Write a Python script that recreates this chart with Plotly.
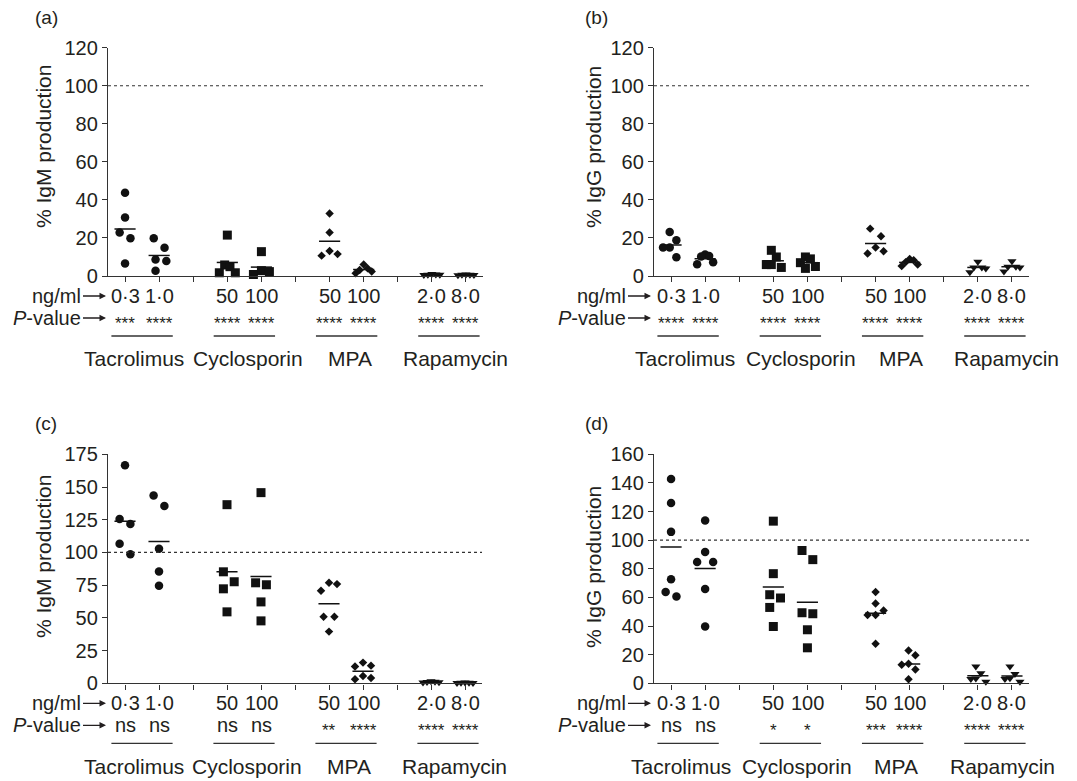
import numpy as np
import plotly.graph_objects as go

W, H = 1077, 781
FONT = "Liberation Sans, Arial, Helvetica, sans-serif"
INK = "#231f20"

# ---------------- data ----------------
drugs = ["Tacrolimus", "Cyclosporin", "MPA", "Rapamycin"]
doses = ["0·3", "1·0", "50", "100", "50", "100", "2·0", "8·0"]
drug_symbols = ["circle", "square", "diamond", "triangle-down"]

# (a) % IgM production
igm_a = [
    [43.7, 30.8, 22.9, 19.8, 6.6],
    [19.8, 14.9, 8.7, 7.9, 2.8],
    [21.5, 5.8, 4.9, 1.7, 1.7],
    [12.8, 2.8, 2.3, 0.8],
    [32.9, 22.9, 13.1, 11.5, 10.7],
    [6.0, 4.0, 3.2, 2.4, 1.4],
    [1.0, 0.8, 0.7, 0.6, 0.5],
    [0.8, 0.7, 0.6, 0.5, 0.4],
]
p_a = ["***", "****", "****", "****", "****", "****", "****", "****"]

# (b) % IgG production
igg_b = [
    [23.1, 18.8, 15.0, 15.0, 9.9],
    [11.3, 10.5, 10.2, 7.2, 6.2],
    [13.5, 10.0, 6.0, 6.0, 4.5],
    [10.0, 9.0, 7.0, 5.0, 4.0],
    [24.9, 20.9, 15.0, 13.0, 11.8],
    [8.9, 8.3, 7.3, 6.0, 5.2],
    [7.5, 4.5, 4.5, 4.0, 2.0],
    [7.8, 4.9, 4.9, 4.5, 2.3],
]
p_b = ["****", "****", "****", "****", "****", "****", "****", "****"]

# (c) % IgM production
igm_c = [
    [166.6, 125.5, 121.7, 106.6, 98.7],
    [143.6, 135.5, 102.8, 85.5, 74.5],
    [136.5, 85.2, 77.6, 72.2, 54.6],
    [145.7, 76.8, 75.3, 62.2, 47.7],
    [76.8, 75.8, 70.7, 50.8, 50.8, 39.5],
    [15.8, 13.5, 12.8, 5.6, 4.1, 3.1],
    [1.5, 1.2, 1.0, 0.8, 0.6],
    [0.6, 0.5, 0.4, 0.3, 0.3],
]
p_c = ["ns", "ns", "ns", "ns", "**", "****", "****", "****"]

# (d) % IgG production
igg_d = [
    [142.8, 125.9, 105.8, 72.7, 63.8, 60.7],
    [113.8, 91.8, 84.8, 84.8, 65.9, 39.7],
    [113.3, 76.6, 61.9, 59.6, 53.0, 39.7],
    [92.8, 86.4, 49.3, 48.6, 37.4, 24.8],
    [63.8, 55.8, 50.9, 47.7, 47.7, 27.6],
    [22.9, 19.6, 13.6, 12.9, 9.6, 2.8],
    [11.7, 7.0, 3.3, 3.0, 1.0],
    [11.7, 6.5, 3.5, 3.0, 1.0],
]
p_d = ["ns", "ns", "*", "*", "***", "****", "****", "****"]

y_max = [120, 120, 175, 160]
y_step = [20, 20, 25, 20]
y_titles = ["% IgM production", "% IgG production", "% IgM production", "% IgG production"]
panel_tags = ["(a)", "(b)", "(c)", "(d)"]
reference_level = 100

# ---------------- layout geometry (pixels) ----------------
geom = [
    dict(L=108, R=483, T=47.7, B=276, tag=(33, 18), title=(44, 147), arrow=(83, 106),
         glab=[1.26, 4.6, 7.6, 10.7]),
    dict(L=654, R=1029, T=47.7, B=276, tag=(583, 18), title=(594, 147), arrow=(628, 651),
         glab=[1.42, 4.8, 7.74, 10.84]),
    dict(L=108, R=482, T=454.3, B=683.3, tag=(33, 423), title=(43, 557), arrow=(83, 106),
         glab=[1.26, 4.6, 7.6, 10.7]),
    dict(L=654, R=1029, T=454.3, B=683.3, tag=(583, 423), title=(593, 567), arrow=(628, 651),
         glab=[1.3, 4.68, 7.6, 10.72]),
]
panel_data = [(igm_a, p_a), (igg_b, p_b), (igm_c, p_c), (igg_d, p_d)]
marker_size = {"circle": 8.5, "square": 9, "diamond": 6.5, "triangle-down": 8}


def px_x(px):
    return px / W


def px_y(py):
    return 1 - py / H


def swarm(values, ppu_y, ppu_x):
    """Deterministic beeswarm offsets (in x data units)."""
    v = np.asarray(values, dtype=float)
    order = np.argsort(-v, kind="stable")
    offs = np.zeros(len(v))
    slot = 2.7
    thr_y = 11.0
    thr_x = 10.0
    cap = 8.0
    comp = []

    def finish(c):
        if not c:
            return
        o = np.array([offs[i] for i in c])
        o = o - o.mean()
        m = np.abs(o).max()
        if m > cap:
            o = o * cap / m
        for i, val in zip(c, o):
            offs[i] = val

    prev = None
    for i in order:
        y = v[i] * ppu_y
        if prev is not None and abs(prev - y) >= thr_y:
            finish(comp)
            comp = []
        cands = [0]
        for k in range(1, 16):
            cands += [k, -k]
        for k in cands:
            dx = k * slot
            ok = True
            for j in comp:
                if abs(v[j] * ppu_y - y) < thr_y and abs(offs[j] - dx) < thr_x:
                    ok = False
                    break
            if ok:
                offs[i] = dx
                break
        comp.append(i)
        prev = y
    finish(comp)
    return offs / ppu_x


fig = go.Figure()
shapes = []
annotations = []
layout_axes = {}

positions = [1, 2, 4, 5, 7, 8, 10, 11]

for p, g in enumerate(geom):
    vals, pv = panel_data[p]
    sfx = "" if p == 0 else str(p + 1)
    xa, ya = "x" + sfx, "y" + sfx
    ppu_x = (g["R"] - g["L"]) / 11.0
    ppu_y = (g["B"] - g["T"]) / y_max[p]

    for k, series in enumerate(vals):
        sym = drug_symbols[k // 2]
        pos = positions[k]
        off = swarm(series, ppu_y, ppu_x)
        fig.add_trace(go.Scatter(
            x=[pos + o for o in off], y=series, mode="markers",
            marker=dict(symbol=sym, size=marker_size[sym], color="#111111",
                        line=dict(width=0)),
            xaxis=xa, yaxis=ya, showlegend=False, cliponaxis=False,
            hoverinfo="y"))
        m = float(np.mean(series))
        fig.add_trace(go.Scatter(
            x=[pos - 0.31, pos + 0.31], y=[m, m], mode="lines",
            line=dict(color="#111111", width=1.5),
            xaxis=xa, yaxis=ya, showlegend=False, cliponaxis=False,
            hoverinfo="skip"))

    # reference dotted line
    shapes.append(dict(type="line", xref=xa, yref=ya, x0=0.5, x1=11.5,
                       y0=reference_level, y1=reference_level,
                       line=dict(color="#333333", width=1.2, dash="dot")))

    xdom = [px_x(g["L"]), px_x(g["R"])]
    ydom = [px_y(g["B"]), px_y(g["T"])]
    layout_axes["xaxis" + sfx] = dict(
        domain=xdom, range=[0.5, 11.5], anchor=ya, automargin=False,
        showline=True, linecolor="#333333", linewidth=1.4,
        ticks="outside", tickvals=list(range(1, 12)), ticklen=5, tickwidth=1.3,
        tickcolor="#333333", showticklabels=False, showgrid=False, zeroline=False,
        fixedrange=True)
    layout_axes["yaxis" + sfx] = dict(
        domain=ydom, range=[0, y_max[p]], anchor=xa, automargin=False,
        showline=True, linecolor="#333333", linewidth=1.4,
        ticks="outside", tickvals=list(range(0, y_max[p] + 1, y_step[p])),
        ticklen=5, tickwidth=1.3, tickcolor="#333333",
        tickfont=dict(family=FONT, size=20, color=INK),
        showgrid=False, zeroline=False, fixedrange=True)

    B = g["B"]
    # panel tag
    annotations.append(dict(text=panel_tags[p], xref="paper", yref="paper",
                             x=px_x(g["tag"][0]), y=px_y(g["tag"][1]),
                             xanchor="left", yanchor="middle", showarrow=False,
                             font=dict(family=FONT, size=19, color=INK)))
    # y title
    annotations.append(dict(text=y_titles[p], xref="paper", yref="paper",
                             x=px_x(g["title"][0]), y=px_y(g["title"][1]),
                             xanchor="center", yanchor="middle", textangle=-90,
                             showarrow=False,
                             font=dict(family=FONT, size=21, color=INK)))
    # row labels with arrows
    for row_text, dy in [("ng/ml", 20), ("<i>P</i>-value", 42)]:
        annotations.append(dict(text=row_text, xref="paper", yref="paper",
                                x=px_x(g["arrow"][1]), y=px_y(B + dy),
                                ax=g["arrow"][0] - g["arrow"][1], ay=0,
                                axref="pixel", ayref="pixel",
                                xanchor="right", yanchor="middle",
                                showarrow=True, arrowhead=2, arrowsize=1,
                                arrowwidth=1.3, arrowcolor=INK, standoff=0,
                                startstandoff=0,
                                font=dict(family=FONT, size=20, color=INK)))
    # dose labels and p-values
    for k in range(8):
        annotations.append(dict(text=doses[k], xref=xa, yref="paper",
                                x=positions[k], y=px_y(B + 20),
                                xanchor="center", yanchor="middle", showarrow=False,
                                font=dict(family=FONT, size=20, color=INK)))
        stars = pv[k] != "ns"
        annotations.append(dict(text=pv[k], xref=xa, yref="paper",
                                x=positions[k], y=px_y(B + (47 if stars else 42)),
                                xanchor="center", yanchor="middle", showarrow=False,
                                font=dict(family=FONT, size=20 if not stars else 17,
                                          color=INK)))
    # group underlines and names
    for d in range(4):
        c = 1.5 + 3 * d
        shapes.append(dict(type="line", xref=xa, yref="paper",
                           x0=c - 0.9, x1=c + 0.9, y0=px_y(B + 60), y1=px_y(B + 60),
                           line=dict(color="#333333", width=1.3)))
        annotations.append(dict(text=drugs[d], xref=xa, yref="paper",
                                x=g["glab"][d], y=px_y(B + 83),
                                xanchor="center", yanchor="middle", showarrow=False,
                                font=dict(family=FONT, size=21, color=INK)))

fig.update_layout(
    width=W, height=H,
    margin=dict(l=0, r=0, t=0, b=0, pad=0, autoexpand=False),
    paper_bgcolor="white", plot_bgcolor="white",
    shapes=shapes, annotations=annotations, showlegend=False,
    font=dict(family=FONT, color=INK),
    **layout_axes)

fig.write_html("out.html", config={"displayModeBar": False},
               post_script="document.body.style.margin='0px';"
                           "document.body.style.overflow='hidden';")
